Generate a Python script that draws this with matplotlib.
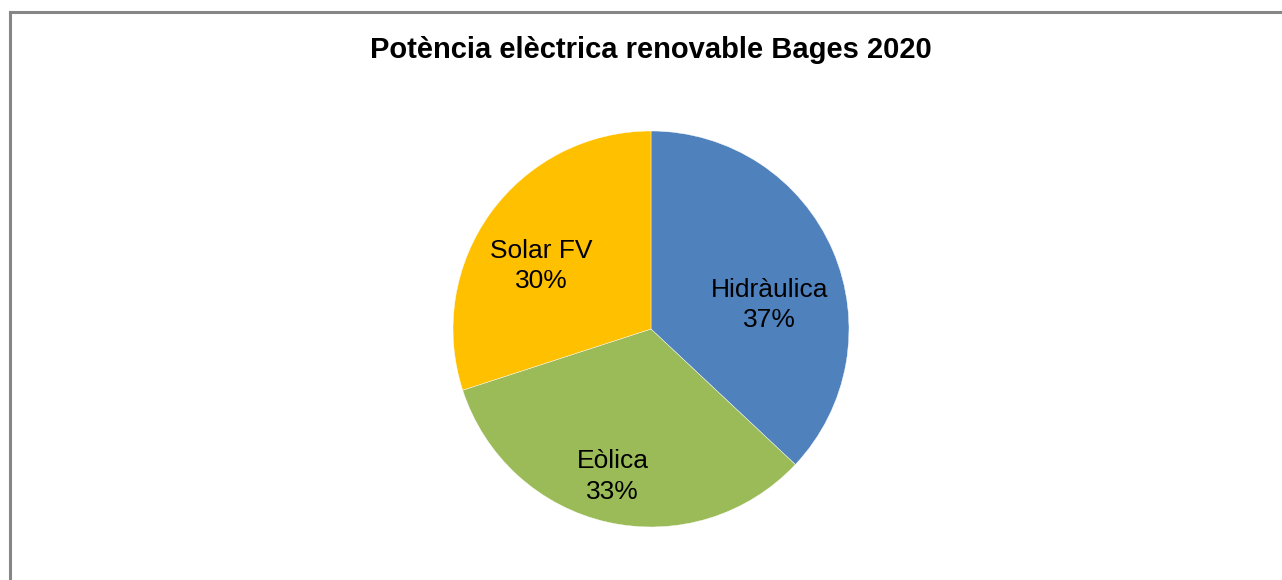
import numpy as np
import matplotlib.pyplot as plt
from matplotlib.lines import Line2D

plt.rcParams['font.family'] = ['Liberation Sans', 'DejaVu Sans']

TITLE = "Potència elèctrica renovable Bages 2020"
labels = ["Hidràulica", "Eòlica", "Solar FV"]
values = [37, 33, 30]
colors = ["#4F81BD", "#9BBB59", "#FFC000"]

# label placement tweaks (radius, angle shift in degrees)
label_r = [0.61, 0.77, 0.64]
label_shift = [-12, -2, 6]

fig = plt.figure(figsize=(12.82, 5.8), dpi=100)
fig.patch.set_facecolor("white")

# grey frame (left and top only visible)
fig.add_artist(Line2D([9.5 / 1282, 9.5 / 1282], [0, 1 - 11.5 / 580], color="#868686", lw=2.2))
fig.add_artist(Line2D([9.5 / 1282, 1], [1 - 11.5 / 580, 1 - 11.5 / 580], color="#868686", lw=2.2))

ax = fig.add_axes([453 / 1282, 53 / 580, 396 / 1282, 396 / 580])
wedges, _ = ax.pie(values, colors=colors, startangle=90, counterclock=False,
                   radius=1, wedgeprops=dict(edgecolor="white", linewidth=0.3))
ax.set_xlim(-1, 1)
ax.set_ylim(-1, 1)
ax.set_aspect("equal")
ax.axis("off")

total = sum(values)
for w, lab, v, r, sh in zip(wedges, labels, values, label_r, label_shift):
    ang = np.deg2rad((w.theta1 + w.theta2) / 2 + sh)
    ax.text(r * np.cos(ang), r * np.sin(ang), f"{lab}\n{v / total * 100:.0f}%",
            ha="center", va="center", fontsize=19, color="black", linespacing=1.32)

fig.text(651 / 1282, 1 - 50 / 580, TITLE, ha="center", va="center",
         fontsize=21, fontweight="bold")

fig.savefig("out.png", dpi=100)
